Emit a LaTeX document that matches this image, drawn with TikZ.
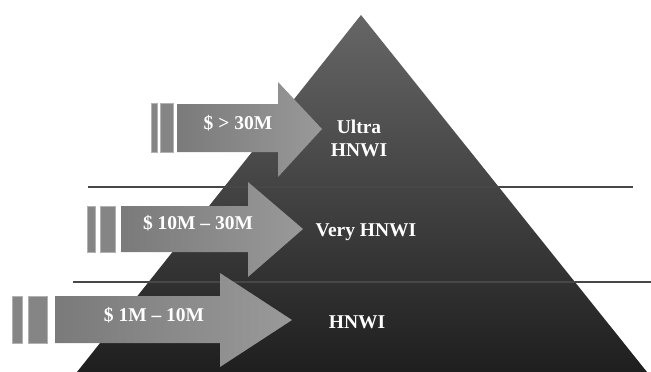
\documentclass[tikz,border=0pt]{standalone}
\usepackage{fontspec}
\setmainfont{Liberation Serif}
\begin{document}
\begin{tikzpicture}[x=1pt,y=-1pt,
  lbl/.style={text=white,font=\fontsize{19.5}{23}\selectfont\bfseries,inner sep=0pt,align=center},
  sep/.style={draw=black!72,line width=1.3pt},
  arrbody/.style={left color=black!52,right color=black!40,draw=none},
  barbox/.style={fill=black!48,draw=black!30,line width=0.6pt}]
\useasboundingbox (0,0) rectangle (651,372);
% pyramid
\shade[top color=black!60,bottom color=black!88] (361,15) -- (647,372) -- (77,372) -- cycle;
% separator lines
\draw[sep] (88,187) -- (633,187);
\draw[sep] (73,282) -- (651,282);
% arrow 1
\fill[barbox] (151,103) rectangle (157,152);
\fill[barbox] (160,103) rectangle (173,152);
\shade[arrbody] (177,104) -- (278,104) -- (278,82) -- (322,129) -- (278,177) -- (278,152) -- (177,152) -- cycle;
% arrow 2
\fill[barbox] (87,206) rectangle (95,252);
\fill[barbox] (100,206) rectangle (115,252);
\shade[arrbody] (121,206) -- (248,206) -- (248,182) -- (303,229) -- (248,277) -- (248,252) -- (121,252) -- cycle;
% arrow 3
\fill[barbox] (12,296) rectangle (22,343);
\fill[barbox] (28,296) rectangle (47,343);
\shade[arrbody] (55,296) -- (220,296) -- (220,273) -- (292,320) -- (220,367) -- (220,343) -- (55,343) -- cycle;
% labels
\node[lbl] (a1) at (238,123) {\$ > 30M};
\node[lbl] (a2) at (198,223) {\$ 10M – 30M};
\node[lbl] (a3) at (154,315) {\$ 1M – 10M};
\node[lbl] (t1) at (359,138) {Ultra\\HNWI};
\node[lbl] (t2) at (366,232) {Very HNWI};
\node[lbl] (t3) at (357,322) {HNWI};
\end{tikzpicture}
\end{document}
